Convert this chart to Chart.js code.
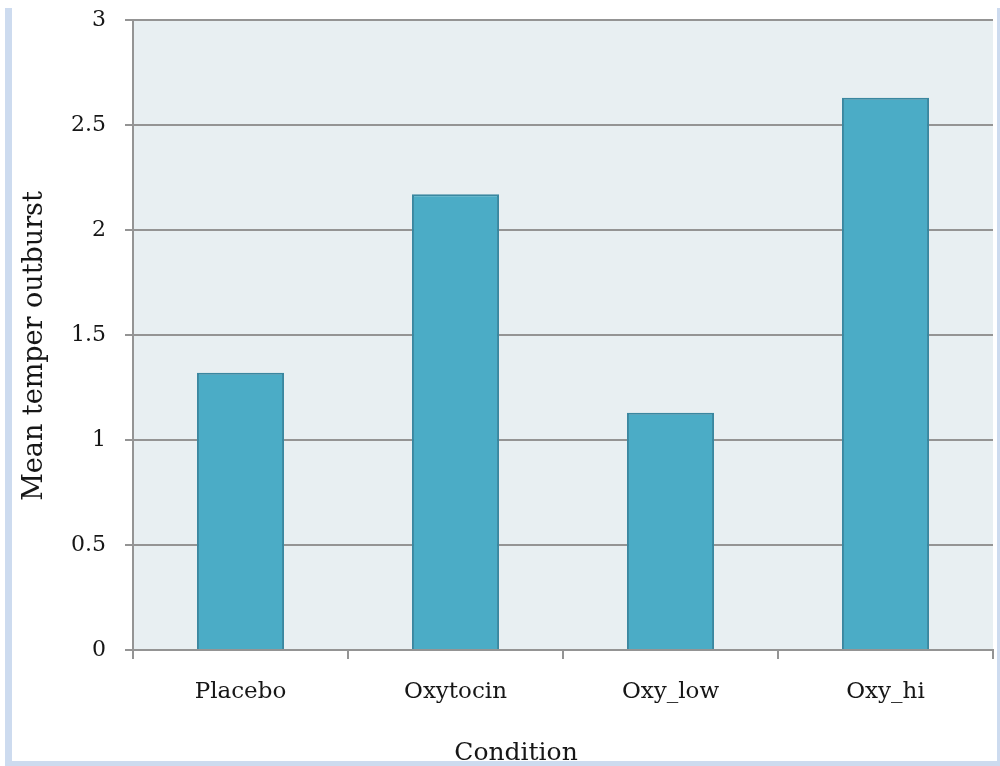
<!DOCTYPE html>
<html>
<head>
<meta charset="utf-8">
<title>Mean temper outburst by condition</title>
<script src="https://cdn.jsdelivr.net/npm/chart.js@4/dist/chart.umd.min.js"></script>
<style>
  html, body { margin: 0; padding: 0; background: #ffffff; }
  #wrap { position: relative; width: 1000px; height: 766px; overflow: hidden; }
  #chart { position: absolute; left: 0; top: 0; }
  .frame { position: absolute; background: #cddbef; }
</style>
</head>
<body>
<div id="wrap">
  <canvas id="chart" width="1000" height="766"></canvas>
  <div class="frame" style="left:5px; top:8px; width:7px; height:758px;"></div>
  <div class="frame" style="left:5px; top:761px; width:995px; height:5px;"></div>
  <div class="frame" style="left:997px; top:8px; width:3px; height:758px;"></div>
</div>
<script>
// Conditions and their mean number of temper outbursts
const conditions = ['Placebo', 'Oxytocin', 'Oxy_low', 'Oxy_hi'];
const meanOutbursts = [1.32, 2.17, 1.13, 2.63];
const yTicks = [0, 0.5, 1, 1.5, 2, 2.5, 3];

const xTitle = 'Condition';
const yTitle = 'Mean temper outburst';

const serif = '"DejaVu Serif", "Liberation Serif", serif';
const textColor = '#161616';
const lineColor = '#949494';

// Shades the plot area before anything else is drawn
const plotBackground = {
  id: 'plotBackground',
  beforeDraw(chart) {
    const { ctx, chartArea: a } = chart;
    ctx.save();
    ctx.fillStyle = '#e8eff2';
    ctx.fillRect(a.left, a.top, a.right - a.left, a.bottom - a.top);
    ctx.restore();
  }
};

// Axis titles, placed relative to the plot area
const axisTitles = {
  id: 'axisTitles',
  afterDraw(chart) {
    const { ctx, chartArea: a } = chart;
    ctx.save();
    ctx.fillStyle = textColor;
    ctx.textAlign = 'center';
    ctx.textBaseline = 'alphabetic';
    ctx.font = '25px ' + serif;
    ctx.fillText(xTitle, a.left + 383, a.bottom + 110);
    ctx.translate(42, (a.top + a.bottom) / 2 + 11);
    ctx.rotate(-Math.PI / 2);
    ctx.font = '27px ' + serif;
    ctx.fillText(yTitle, 0, 0);
    ctx.restore();
  }
};

new Chart(document.getElementById('chart'), {
  type: 'bar',
  data: {
    labels: conditions,
    datasets: [{
      data: meanOutbursts,
      backgroundColor: '#4bacc6',
      borderColor: '#3a87a0',
      borderWidth: 2,
      barPercentage: 0.405,
      categoryPercentage: 1
    }]
  },
  options: {
    responsive: false,
    devicePixelRatio: 1,
    animation: false,
    layout: { padding: { left: 0, right: 7, top: 20, bottom: 0 } },
    plugins: {
      legend: { display: false },
      tooltip: { enabled: false }
    },
    scales: {
      x: {
        offset: true,
        grid: {
          offset: true,
          drawOnChartArea: false,
          drawTicks: true,
          tickLength: 9,
          color: lineColor,
          lineWidth: 2
        },
        border: { display: true, color: lineColor, width: 2 },
        ticks: {
          color: textColor,
          font: { family: serif, size: 23 },
          padding: 19,
          maxRotation: 0
        },
        afterFit(scale) {
          scale.height = 116;
          scale.paddingLeft = 0;
          scale.paddingRight = 0;
        }
      },
      y: {
        min: 0,
        max: 3,
        afterBuildTicks(scale) { scale.ticks = yTicks.map(v => ({ value: v })); },
        grid: {
          color: lineColor,
          lineWidth: 2,
          drawTicks: true,
          tickLength: 8
        },
        border: { display: true, color: lineColor, width: 2 },
        ticks: {
          color: textColor,
          font: { family: serif, size: 22 },
          padding: 19,
          callback: v => String(v)
        },
        afterFit(scale) {
          scale.width = 133;
          scale.paddingTop = 0;
          scale.paddingBottom = 0;
        }
      }
    }
  },
  plugins: [plotBackground, axisTitles]
});
</script>
</body>
</html>
